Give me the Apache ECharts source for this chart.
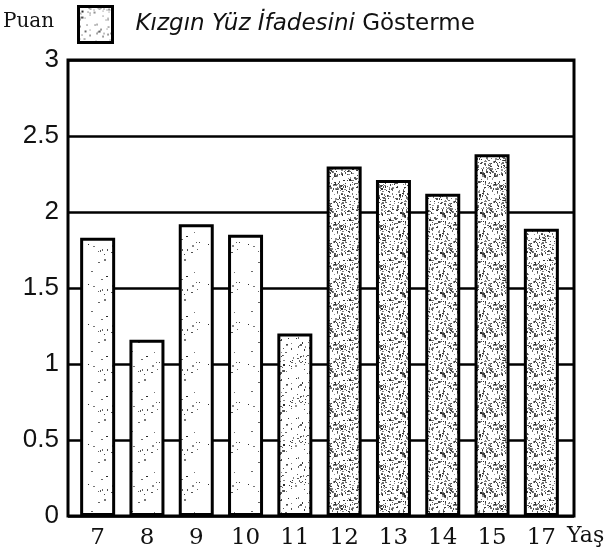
<!DOCTYPE html>
<html>
<head>
<meta charset="utf-8">
<script src="https://cdn.jsdelivr.net/npm/echarts@6/dist/echarts.min.js"></script>
<style>
  html, body { margin: 0; padding: 0; background: #fff; }
  #chart1 { width: 606px; height: 559px; }
</style>
</head>
<body>
<div id="chart1"></div>
<script>
// datos
const yaslar = ['7', '8', '9', '10', '11', '12', '13', '14', '15', '17'];
const puanlar = [1.83, 1.16, 1.92, 1.85, 1.20, 2.30, 2.21, 2.12, 2.38, 1.89];
const yTicks = [0, 0.5, 1, 1.5, 2, 2.5, 3];
const seriName = 'Kızgın Yüz İfadesini Gösterme';

// textura punteada (semilla fija)
const makeDots = (count, seed) => {
  const c = document.createElement('canvas');
  c.width = 40; c.height = 40;
  const ctx = c.getContext('2d');
  ctx.fillStyle = '#fff';
  ctx.fillRect(0, 0, 40, 40);
  let s = seed;
  const rnd = () => { s = (s * 1103515245 + 12345) % 2147483648; return s / 2147483648; };
  for (let i = 0; i < count; i++) {
    const g = 40 + Math.floor(rnd() * 110);
    ctx.fillStyle = `rgb(${g},${g},${g})`;
    const w = rnd() < 0.3 ? 2 : 1;
    ctx.fillRect(Math.floor(rnd() * 40), Math.floor(rnd() * 40), w, 1 + (rnd() < 0.3 ? 1 : 0));
  }
  return { image: c, repeat: 'repeat' };
};

const patLight = makeDots(18, 7);
const patMid = makeDots(90, 11);
const patDark = makeDots(280, 23);
const shade = (i) => (i < 4 ? patLight : (i === 4 ? patMid : patDark));

const initChart = () => {
  const chart1 = echarts.init(document.getElementById('chart1'));

  const option = {
    animation: false,
    backgroundColor: '#fff',
    grid: [
      { left: 68, right: 32, top: 60, bottom: 43, show: true, borderColor: '#000', borderWidth: 3 },
      { left: 73, right: 40, top: 60, bottom: 43 }
    ],
    legend: {
      left: 77,
      top: 5,
      padding: 0,
      itemWidth: 34,
      itemHeight: 36,
      icon: 'rect',
      itemStyle: { color: patMid, borderColor: '#000', borderWidth: 3 },
      formatter: () => '{i|Kızgın Yüz İfadesini }{n|Gösterme}',
      textStyle: {
        padding: [0, 0, 0, 18],
        rich: {
          i: { fontFamily: 'DejaVu Sans', fontStyle: 'italic', fontSize: 23, color: '#111' },
          n: { fontFamily: 'DejaVu Sans', fontSize: 23, color: '#111' }
        }
      },
      data: [seriName]
    },
    graphic: [
      { type: 'text', left: 3, top: 12, style: { text: 'Puan', font: '20px "DejaVu Serif"', fill: '#111' } },
      { type: 'text', left: 567, top: 525, style: { text: 'Yaş', font: '22px "DejaVu Serif"', fill: '#111' } }
    ],
    xAxis: [
      { type: 'value', gridIndex: 0, min: 0, max: 1, show: false },
      {
        type: 'category',
        gridIndex: 1,
        data: yaslar,
        axisLine: { show: false },
        axisTick: { show: false },
        axisLabel: { margin: 11, fontFamily: 'DejaVu Serif', fontSize: 23, color: '#111' }
      }
    ],
    yAxis: [
      {
        type: 'value',
        gridIndex: 0,
        min: yTicks[0],
        max: yTicks[yTicks.length - 1],
        interval: 0.5,
        axisLine: { show: false },
        axisTick: { show: false },
        splitLine: { lineStyle: { color: '#000', width: 2.5 } },
        axisLabel: { margin: 9, fontFamily: 'Liberation Sans', fontSize: 26, color: '#111' }
      },
      { type: 'value', gridIndex: 1, min: 0, max: 3, show: false }
    ],
    series: [{
      name: seriName,
      type: 'bar',
      xAxisIndex: 1,
      yAxisIndex: 1,
      barWidth: 35,
      itemStyle: { color: patMid, borderColor: '#000', borderWidth: 3 },
      data: puanlar.map((v, i) => ({ value: v, itemStyle: { color: shade(i) } }))
    }]
  };

  chart1.setOption(option);
};

document.addEventListener('DOMContentLoaded', () => {
  initChart();
});
</script>
</body>
</html>
